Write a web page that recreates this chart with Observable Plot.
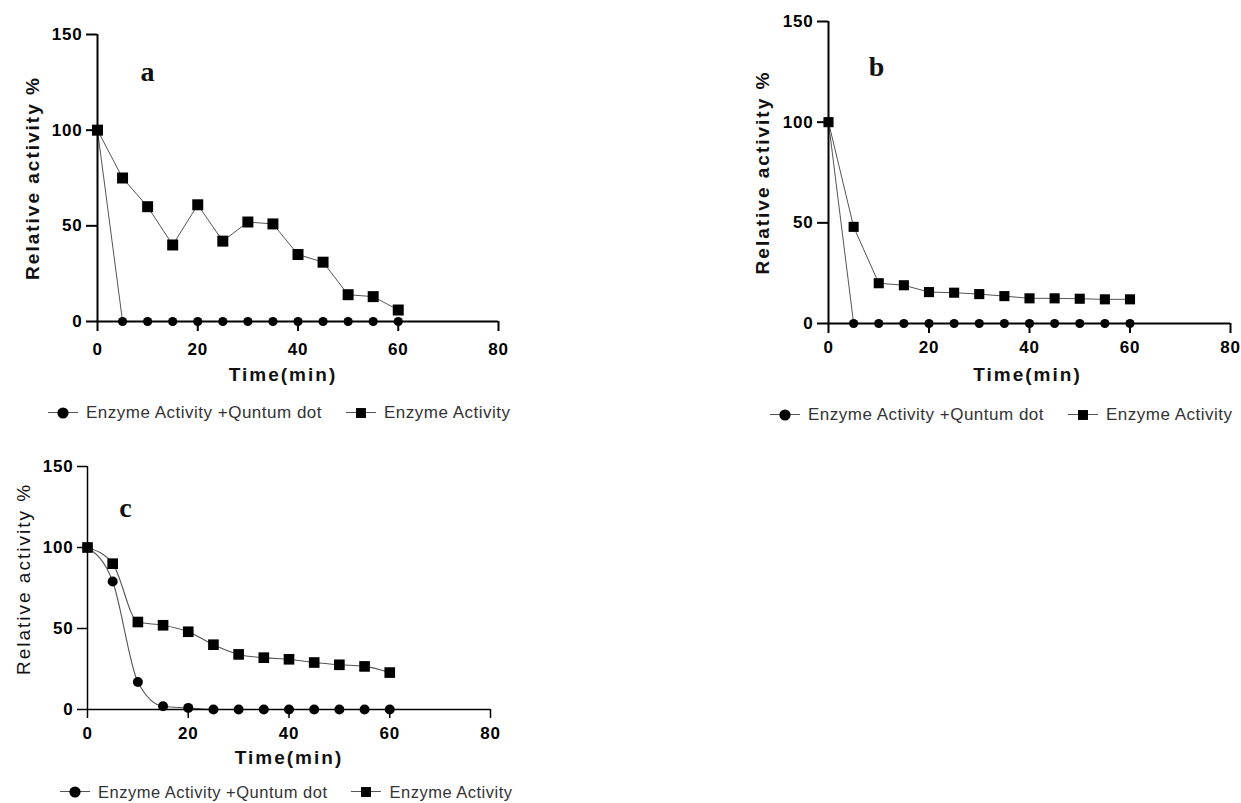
<!DOCTYPE html>
<html>
<head>
<meta charset="utf-8">
<script src="https://cdn.jsdelivr.net/npm/d3@7"></script>
<script src="https://cdn.jsdelivr.net/npm/@observablehq/plot@0.6"></script>
<style>
html, body { margin: 0; padding: 0; background: #fff; width: 1241px; height: 803px; overflow: hidden; }
.holder { position: absolute; }
.lgwrap { position: absolute; width: 480px; }
.lg-swatch { margin-right: 24px !important; white-space: nowrap; }
.lg-swatch > svg { margin-right: 8px !important; background: linear-gradient(#555, #555) center / 100% 1.2px no-repeat; overflow: visible; }
</style>
</head>
<body>
<div id="root"></div>
<script>
// ---- data ----
const time = [0, 5, 10, 15, 20, 25, 30, 35, 40, 45, 50, 55, 60];
const aWithQD  = [100, 0, 0, 0, 0, 0, 0, 0, 0, 0, 0, 0, 0];
const aEnzyme  = [100, 75, 60, 40, 61, 42, 52, 51, 35, 31, 14, 13, 6];
const bWithQD  = [100, 0, 0, 0, 0, 0, 0, 0, 0, 0, 0, 0, 0];
const bEnzyme  = [100, 48, 20, 19, 15.6, 15.3, 14.6, 13.6, 12.5, 12.5, 12.3, 12, 12];
const cWithQD  = [100, 79, 17, 2, 1, 0, 0, 0, 0, 0, 0, 0, 0];
const cEnzyme  = [100, 90, 54, 52, 48, 40, 34, 32, 31, 29, 27.6, 26.6, 22.8];
const xTicks = [0, 20, 40, 60, 80];
const yTicks = [0, 50, 100, 150];
const seriesNames = ["Enzyme Activity +Quntum dot", "Enzyme Activity"];
const panelLetters = ["a", "b", "c"];
const xTitle = "Time(min)";
const yTitle = "Relative activity %";

// ---- layout (styling only) ----
const panels = [
  {letter: panelLetters[0], qd: aWithQD, en: aEnzyme, left: 0, top: 0, width: 520, height: 400,
   ml: 97, mr: 22, mt: 34, mb: 79, axisW: 2, xTickSize: 10, xTickPad: 11, yTickSize: 11, yTickPad: 4,
   yTitleDx: -65, yTitleDy: 0, yTitleWeight: "bold", xTitleDx: -15, xTitleDy: 59,
   letterDx: 50, letterDy: 27, sqR: 6.2, ciR: 4.6, curve: "linear", lineW: 1,
   legendLeft: 48, legendTop: 401, legendFont: 17},
  {letter: panelLetters[1], qd: bWithQD, en: bEnzyme, left: 730, top: 0, width: 510, height: 400,
   ml: 98, mr: 10, mt: 21, mb: 77, axisW: 2, xTickSize: 10, xTickPad: 7, yTickSize: 11, yTickPad: 4,
   yTitleDx: -66, yTitleDy: 0, yTitleWeight: "bold", xTitleDx: -2, xTitleDy: 57,
   letterDx: 48, letterDy: 35, sqR: 5.7, ciR: 4.6, curve: "linear", lineW: 1,
   legendLeft: 770, legendTop: 403, legendFont: 17},
  {letter: panelLetters[2], qd: cWithQD, en: cEnzyme, left: 0, top: 440, width: 520, height: 340,
   ml: 87, mr: 30, mt: 26, mb: 71, axisW: 1.5, xTickSize: 9, xTickPad: 8, yTickSize: 10, yTickPad: 4,
   yTitleDx: -64, yTitleDy: -9, yTitleWeight: "normal", xTitleDx: 0, xTitleDy: 54,
   letterDx: 38, letterDy: 31, sqR: 6, ciR: 5, curve: "monotone-x", lineW: 1.1,
   legendLeft: 60, legendTop: 780, legendFont: 16.5}
];

const FONT = "'Liberation Sans', Arial, sans-serif";
const root = document.getElementById("root");

panels.forEach(cfg => {
  const qd = time.map((t, i) => ({t, v: cfg.qd[i], s: seriesNames[0]}));
  const en = time.map((t, i) => ({t, v: cfg.en[i], s: seriesNames[1]}));
  const svg = Plot.plot({
    width: cfg.width, height: cfg.height,
    marginLeft: cfg.ml, marginRight: cfg.mr, marginTop: cfg.mt, marginBottom: cfg.mb,
    x: {domain: [0, 80]},
    y: {domain: [0, 150]},
    style: {background: "transparent", overflow: "visible", maxWidth: "none", fontFamily: FONT, color: "#000"},
    marks: [
      Plot.line(qd, {x: "t", y: "v", stroke: "#555", strokeWidth: cfg.lineW, curve: cfg.curve}),
      Plot.line(en, {x: "t", y: "v", stroke: "#555", strokeWidth: cfg.lineW, curve: cfg.curve}),
      Plot.ruleX([0], {stroke: "#000", strokeWidth: cfg.axisW}),
      Plot.ruleY([0], {stroke: "#000", strokeWidth: cfg.axisW}),
      Plot.axisX(xTicks, {label: null, tickSize: cfg.xTickSize, tickPadding: cfg.xTickPad,
        fontSize: 17, fontWeight: "bold", strokeWidth: cfg.axisW, fontFamily: FONT}),
      Plot.axisY(yTicks, {label: null, tickSize: cfg.yTickSize, tickPadding: cfg.yTickPad,
        fontSize: 17, fontWeight: "bold", strokeWidth: cfg.axisW, fontFamily: FONT}),
      Plot.dot(qd, {x: "t", y: "v", symbol: "circle", r: cfg.ciR, fill: "#000", stroke: "none"}),
      Plot.dot(en, {x: "t", y: "v", symbol: "square", r: cfg.sqR, fill: "#000", stroke: "none"}),
      Plot.text([yTitle], {frameAnchor: "left", textAnchor: "middle", rotate: -90, dx: cfg.yTitleDx, dy: cfg.yTitleDy,
        fontSize: 19, fontWeight: cfg.yTitleWeight, fill: "#111", fontFamily: FONT}),
      Plot.text([xTitle], {frameAnchor: "bottom", textAnchor: "middle", dx: cfg.xTitleDx, dy: cfg.xTitleDy,
        fontSize: 19, fontWeight: "bold", fill: "#111", fontFamily: FONT}),
      Plot.text([cfg.letter], {frameAnchor: "top-left", textAnchor: "middle", dx: cfg.letterDx, dy: cfg.letterDy,
        fontSize: 28, fontWeight: "bold", fill: "#111", fontFamily: "'Liberation Serif', 'Times New Roman', serif"})
    ]
  });
  svg.querySelectorAll("text").forEach(el => {
    if (el.textContent === yTitle || el.textContent === xTitle) el.setAttribute("letter-spacing", "2px");
    else if (el.textContent !== cfg.letter) el.setAttribute("letter-spacing", "0.8px");
  });
  const holder = document.createElement("div");
  holder.className = "holder";
  holder.style.left = cfg.left + "px";
  holder.style.top = cfg.top + "px";
  holder.appendChild(svg);
  root.appendChild(holder);

  const lg = Plot.legend({
    symbol: {domain: seriesNames, range: ["circle", "square"]},
    fill: "#000", stroke: "none", r: 5.6,
    swatchWidth: 30, swatchHeight: 16,
    className: "lg",
    style: {fontSize: cfg.legendFont + "px", fontFamily: FONT, color: "#333", letterSpacing: "0.5px",
            margin: "0", minHeight: "24px", height: "24px", background: "transparent",
            flexWrap: "nowrap", whiteSpace: "nowrap"}
  });
  const wrap = document.createElement("div");
  wrap.className = "lgwrap";
  wrap.style.left = cfg.legendLeft + "px";
  wrap.style.top = cfg.legendTop + "px";
  wrap.appendChild(lg);
  root.appendChild(wrap);
});
</script>
</body>
</html>
